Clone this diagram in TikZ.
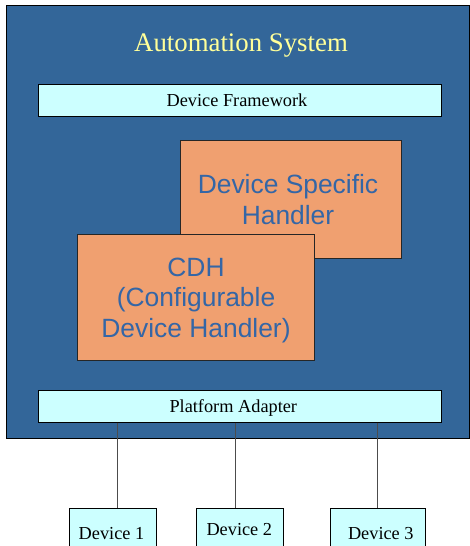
\documentclass[tikz,border=0pt]{standalone}
\usepackage{fontspec}
\setmainfont{Liberation Serif}
\newfontfamily\arialf{Liberation Sans}
\definecolor{sysblue}{RGB}{51,102,153}
\definecolor{panelcyan}{RGB}{204,255,255}
\definecolor{handlerorange}{RGB}{240,160,112}
\definecolor{handlertext}{RGB}{52,102,166}
\definecolor{titleyellow}{RGB}{255,255,153}
\tikzset{
  x=1pt, y=-1pt,
  panel/.style={draw=black, line width=0.9pt, fill=panelcyan, inner sep=0pt},
  handler/.style={draw=black!85, line width=0.9pt, fill=handlerorange, inner sep=0pt},
  serif18/.style={font=\fontsize{18.3}{22}\selectfont, text=black, anchor=base, inner sep=0pt},
  handlerlabel/.style={font=\arialf\fontsize{26.4}{30.8}\selectfont, text=handlertext, anchor=base, inner sep=0pt},
  wire/.style={draw=black!70, line width=0.8pt}
}
\begin{document}
\begin{tikzpicture}
\useasboundingbox (0,0) rectangle (470,546);
\clip (0,0) rectangle (470,546);
% enclosing system
\node[draw=black, line width=0.9pt, fill=sysblue, inner sep=0pt, minimum width=463pt, minimum height=433pt] (sys) at (237.5,221.5) {};
\node[font=\fontsize{26.8}{30}\selectfont, text=titleyellow, anchor=base, inner sep=0pt] (title) at (241,51.7) {Automation System};
% framework and adapter layers
\node[panel, minimum width=403.5pt, minimum height=32pt] (df) at (239.7,100) {};
\node[serif18] (dft) at (237,106.7) {Device Framework};
\node[panel, minimum width=403.5pt, minimum height=32pt] (pa) at (239.7,406.2) {};
\node[serif18] (pat) at (233.3,412.7) {Platform Adapter};
% handlers
\node[handler, minimum width=221.7pt, minimum height=118pt] (dsh) at (290.8,199) {};
\node[handlerlabel] (dsht1) at (288,193.3) {Device Specific};
\node[handlerlabel] (dsht2) at (288,224.3) {Handler};
\node[handler, minimum width=237.4pt, minimum height=125.7pt] (cdh) at (196,297.2) {};
\node[handlerlabel] (cdht1) at (196,276.7) {CDH};
\node[handlerlabel] (cdht2) at (196,306.9) {(Configurable};
\node[handlerlabel] (cdht3) at (196,337.7) {Device Handler)};
% devices
\node[panel, minimum width=86.6pt, minimum height=60pt] (d1) at (113,538.3) {};
\node[serif18] (d1t) at (111.5,539) {Device 1};
\node[panel, minimum width=86.7pt, minimum height=60pt] (d2) at (239.7,538.3) {};
\node[serif18] (d2t) at (239.3,535) {Device 2};
\node[panel, minimum width=95.4pt, minimum height=60pt] (d3) at (378,538.3) {};
\node[serif18] (d3t) at (380.8,539) {Device 3};
% links from the adapter down to the devices
\coordinate (w1) at (117,0);
\coordinate (w2) at (235.7,0);
\coordinate (w3) at (377.7,0);
\draw[wire] (pa.south -| w1) -- (d1.north -| w1);
\draw[wire] (pa.south -| w2) -- (d2.north -| w2);
\draw[wire] (pa.south -| w3) -- (d3.north -| w3);
\end{tikzpicture}
\end{document}
